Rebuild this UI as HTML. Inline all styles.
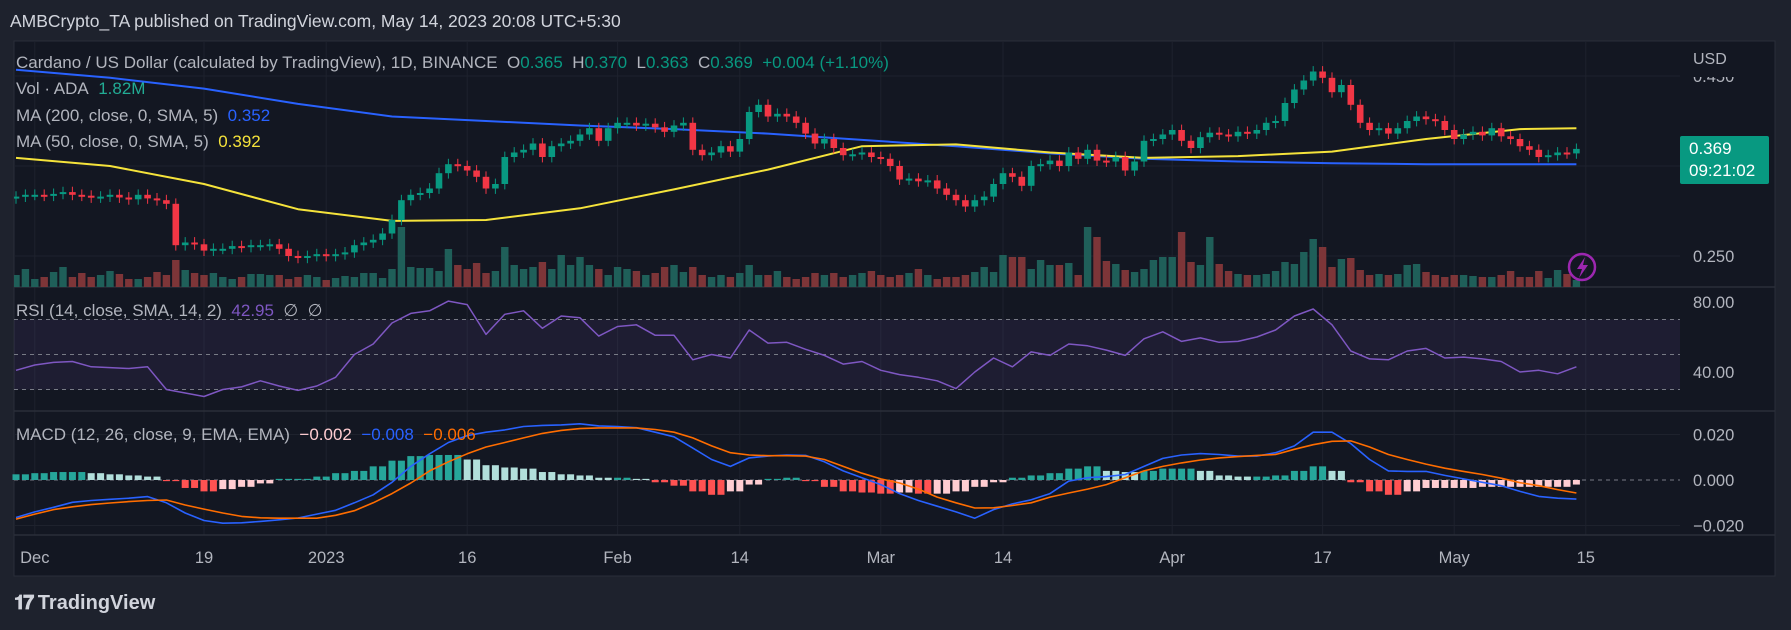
<!DOCTYPE html>
<html><head><meta charset="utf-8"><style>
html,body{margin:0;padding:0;background:#1e222d;width:1791px;height:630px;overflow:hidden;font-family:"Liberation Sans",sans-serif}
#wrap{position:relative;width:1791px;height:630px}
svg{position:absolute;left:0;top:0}
.t{position:absolute;white-space:nowrap;font-size:17px;color:#b2b5be;line-height:20px}
</style></head><body>
<div id="wrap">
<svg id="svg" width="1791" height="630"></svg>
<div class="t" style="left:10px;top:11px;font-size:17.5px;color:#d1d4dc">AMBCrypto_TA published on TradingView.com, May 14, 2023 20:08 UTC+5:30</div>
<div class="t" style="left:16px;top:53px">Cardano / US Dollar (calculated by TradingView), 1D, BINANCE&nbsp; O<span style="color:#089981">0.365</span>&nbsp; H<span style="color:#089981">0.370</span>&nbsp; L<span style="color:#089981">0.363</span>&nbsp; C<span style="color:#089981">0.369</span>&nbsp; <span style="color:#089981">+0.004 (+1.10%)</span></div>
<div class="t" style="left:16px;top:79px">Vol · ADA&nbsp; <span style="color:#22ab94">1.82M</span></div>
<div class="t" style="left:16px;top:106px">MA (200, close, 0, SMA, 5)&nbsp; <span style="color:#2962ff">0.352</span></div>
<div class="t" style="left:16px;top:132px">MA (50, close, 0, SMA, 5)&nbsp; <span style="color:#f5e33b">0.392</span></div>
<div class="t" style="left:16px;top:301px">RSI (14, close, SMA, 14, 2)&nbsp; <span style="color:#7e57c2">42.95</span>&nbsp; ∅&nbsp; ∅</div>
<div class="t" style="left:16px;top:425px">MACD (12, 26, close, 9, EMA, EMA)&nbsp; <span style="color:#ffcdd2">−0.002</span>&nbsp; <span style="color:#2962ff">−0.008</span>&nbsp; <span style="color:#ff6d00">−0.006</span></div>
<div class="t" style="left:1693px;top:50px;font-size:16px">USD</div>
<div style="position:absolute;left:1680px;top:136px;width:89px;height:48px;background:#089981;border-radius:2px;color:#fff;font-size:17px;line-height:22px;padding-left:9px;box-sizing:border-box;padding-top:2px">0.369<br>09:21:02</div>
<div style="position:absolute;left:14px;top:591px;color:#d1d4dc;font-size:20px;font-weight:bold;line-height:24px"><span style="letter-spacing:-2px">𝟏𝟕</span> TradingView</div>
</div>
<script>
const closes = [
.316,.318,
.318,.317,.319,.321,.318,.317,.315,.316,.318,.315,.313,.318,.314,.312,.308,
.262,
.265,.263,.256,.258,.258,.261,.260,.262,.262,.263,.258,.250,.248,.250,.252,
.250,.252,.254,.262,.265,.268,.275,.290,.312,.318,.320,.325,.342,.352,.350,.345,.338,.325,.330,.360,.365,.368,.375,.360,.372,.375,.378,.385,.392,.378,.392,
.398,.398,.395,.397,.393,.388,.395,.398,.368,.362,.365,.372,.366,.380,.410,.418,.405,.408,.405,.398,.386,.375,.380,.370,.362,.363,.365,.360,
.358,.350,.335,.336,.333,.334,.325,.318,.312,.305,.312,.316,.330,.342,.338,.328,.350,.352,.356,.350,.365,.358,.368,.356,.355,.360,.345,.355,.378,.380,.385,
.390,.378,.370,.382,.387,.385,.383,.388,.386,.390,.398,.400,.420,.435,.445,.455,.448,.432,.440,.418,.398,.390,.392,.386,.392,.400,.405,.402,.400,.390,
.380,.385,.388,.384,.392,.383,.380,.372,.368,.360,.362,.365,.364,.369];
const firstOpen = 0.314;
const volumes = [
12,18,8,10,15,20,10,14,10,12,16,13,8,8,10,15,12,27,17,14,12,14,10,8,10,13,13,12,12,8,10,12,10,
7,9,11,10,14,14,9,18,60,20,19,19,16,38,22,18,24,14,16,40,22,18,20,25,18,32,22,30,22,18,12,
20,18,16,12,14,20,22,15,20,12,10,12,10,14,22,12,12,16,10,8,10,14,12,14,10,12,14,16,12,
10,12,14,18,12,8,10,10,12,15,20,15,32,30,30,18,27,22,22,24,12,60,50,26,23,17,15,18,27,30,30,
55,25,22,50,23,16,13,12,12,13,16,25,23,35,48,40,20,28,29,17,12,13,12,13,22,23,15,12,10,12,12,
11,10,10,12,16,10,10,16,9,17,13,7,5,3];
const maIdx = [0,10,20,30,40,50,60,70,80,90,100,110,120,130,140,150,160,166];
const ma200 = [.457,.448,.436,.419,.405,.400,.395,.391,.386,.379,.372,.364,.358,.355,.353,.352,.352,.352];
const ma50 = [.359,.350,.330,.302,.289,.290,.303,.324,.346,.372,.374,.365,.359,.361,.366,.380,.391,.392];
const rsi = [41,44,45.5,46,43,42.5,42,43,30,28,26,30,31.5,35,32,29.5,32,37,50,56,68,73.5,75,80.5,78.5,61.5,73,75,65,72,71,60.5,66,67,61,61,47,50,48,64,56.5,57,53,49.5,44.5,46,41,38.5,37,35,30.5,40,48,43,51.5,49.5,56,55,52.5,49.5,59,63,57.5,59.5,57,57.5,60,64,72,76,67,52,47.5,47,52,53.5,48,48.5,47.5,46,40,41,39,43];
const macd = [-.0165,-.014,-.012,-.0098,-.009,-.0085,-.008,-.0073,-.010,-.0145,-.0178,-.019,-.0188,-.0182,-.0175,-.0167,-.015,-.0133,-.010,-.0065,-.001,.006,.0115,.0165,.0195,.021,.022,.0235,.024,.0242,.0247,.0238,.0235,.023,.021,.019,.014,.009,.006,.0097,.0105,.011,.0108,.008,.004,.001,-.002,-.006,-.009,-.0115,-.014,-.0168,-.013,-.0105,-.0087,-.006,-.0005,.001,.0015,.0024,.006,.0095,.011,.0116,.0112,.0105,.0105,.012,.015,.021,.021,.016,.009,.004,.0038,.0038,.002,.0005,-.001,-.0025,-.005,-.0072,-.008,-.0084];
const signal = [-.0172,-.015,-.013,-.0118,-.0108,-.0101,-.0095,-.009,-.0088,-.011,-.0128,-.0145,-.016,-.0166,-.0168,-.0168,-.0168,-.0155,-.0135,-.010,-.006,-.0013,.004,.008,.0115,.0145,.0165,.0185,.0205,.0218,.0226,.0229,.0229,.0229,.0222,.021,.0185,.015,.012,.011,.0107,.0107,.0105,.009,.006,.003,.0005,-.0013,-.004,-.0075,-.010,-.0123,-.0122,-.0112,-.010,-.0075,-.0057,-.004,-.002,.001,.004,.006,.0075,.0088,.0097,.0103,.0108,.0112,.0135,.0155,.017,.0172,.0145,.0112,.009,.007,.0052,.0038,.0024,.0008,-.0012,-.0025,-.0042,-.0057];
const hist = [.0025,.003,.0035,.0035,.003,.0025,.002,.0015,-.0005,-.0035,-.005,-.004,-.003,-.0015,.0005,.0005,.0015,.003,.004,.006,.0085,.0105,.011,.011,.009,.0065,.0055,.005,.0035,.0025,.002,.001,.001,.0005,-.001,-.0025,-.005,-.0065,-.005,-.002,.0005,.001,-.0005,-.003,-.005,-.0055,-.006,-.0055,-.006,-.006,-.005,-.003,-.001,.001,.002,.003,.005,.006,.004,.0035,.004,.005,.005,.004,.002,.0015,.0015,.002,.004,.006,.004,-.001,-.005,-.0065,-.005,-.0035,-.0035,-.0035,-.003,-.003,-.003,-.003,-.003,-.002];
const xLabels = ['Dec','19','2023','16','Feb','14','Mar','14','Apr','17','May','15'];
const xLabelIdx = [2,20,33,48,64,77,92,105,123,139,153,167];
const priceTicks = [0.450,0.350,0.250];
const priceTickText = ['0.450','','0.250'];
const rsiTicks = [80,40];
const macdTicks = [0.02,0,-0.02];

const NS='http://www.w3.org/2000/svg';
const svg=document.getElementById('svg');
function el(tag,at,parent){const e=document.createElementNS(NS,tag);for(const k in at)e.setAttribute(k,at[k]);(parent||svg).appendChild(e);return e;}
const xs=i=>16+i*9.4;
const py=p=>166-(p-0.35)*900;
const ry=v=>302+(80-v)*1.75;
const my=v=>480-v*2275;
const PL=14,PR=1680;

let bg=el('rect',{x:14,y:41,width:1761,height:535,fill:'#131722',stroke:'#2a2e39'});


xLabelIdx.forEach((idx,k)=>{
  const g=el('line',{x1:xs(idx),x2:xs(idx),y1:41,y2:535,stroke:'#1e222d','stroke-width':1});
  
  
  const t=el('text',{x:xs(idx),y:563,fill:'#b2b5be','font-size':16.5,'text-anchor':'middle','font-family':'Liberation Sans'});
  t.textContent=xLabels[k];
  
  
});
[287,411,535].forEach(y=>{const l=el('line',{x1:14,x2:1775,y1:y,y2:y,stroke:'#2a2e39','stroke-width':1.5});

});
const defs=el('defs',{});
const cp=el('clipPath',{id:'pc'},defs);el('rect',{x:14,y:41,width:1666,height:246},cp);
const cpa=el('clipPath',{id:'pa'},defs);el('rect',{x:1680,y:77,width:95,height:210},cpa);
priceTicks.forEach((p,k)=>{
  const g=el('line',{x1:PL,x2:PR,y1:py(p),y2:py(p),stroke:'#1e222d'});
  
  
  const t=el('text',{x:1693,y:py(p)+6,fill:'#b2b5be','font-size':16.5,'clip-path':'url(#pa)'});
  t.textContent=priceTickText[k];
  
  
});
const pane=el('g',{'clip-path':'url(#pc)'});
closes.forEach((c,i)=>{
  const o=i?closes[i-1]:firstOpen;const v=volumes[i]||8;
  const r=el('rect',{x:xs(i)-3.7,y:287-v,width:7.4,height:v,fill:c>=o?'#1f5f59':'#7d3538'},pane);
  
  
});
function line(idx,vals,f,col,w,parent,name){
  const pts=vals.map((v,k)=>xs(idx[k]).toFixed(1)+','+f(v).toFixed(1)).join(' ');
  const l=el('polyline',{points:pts,fill:'none',stroke:col,'stroke-width':w,'stroke-linejoin':'round'},parent);
  
  
}
line(maIdx,ma200,py,'#2962ff',2,pane,'ma200-line');
line(maIdx,ma50,py,'#f5e33b',2,pane,'ma50-line');
closes.forEach((c,i)=>{
  const o=i?closes[i-1]:firstOpen;const up=c>=o;const col=up?'#089981':'#f23645';
  const hi=Math.max(o,c)+0.006,lo=Math.min(o,c)-0.006;
  const w=el('line',{x1:xs(i),x2:xs(i),y1:py(hi),y2:py(lo),stroke:col,'stroke-width':1},pane);
  
  
  const top=py(Math.max(o,c));const h=Math.max(2,py(Math.min(o,c))-top);
  const b=el('rect',{x:xs(i)-3.3,y:top,width:6.6,height:h,fill:col},pane);
  
  
});
const ic=el('circle',{cx:1582,cy:267,r:13,fill:'none',stroke:'#9c27b0','stroke-width':2.5});


const bolt=el('path',{d:'M1585 257 L1577 269 L1582 269 L1579 278 L1588 265 L1583 265 Z',fill:'#9c27b0'});


const band=el('rect',{x:PL,y:ry(70),width:PR-PL,height:ry(30)-ry(70),fill:'rgba(126,87,194,0.1)'});


[70,50,30].forEach(v=>{const l=el('line',{x1:PL,x2:PR,y1:ry(v),y2:ry(v),stroke:'#787b86','stroke-dasharray':'4,4','stroke-width':1});

});
rsiTicks.forEach(v=>{const t=el('text',{x:1693,y:ry(v)+6,fill:'#b2b5be','font-size':16.5});t.textContent=v.toFixed(2);

});
const idx2=rsi.map((_,k)=>k*2);
line(idx2,rsi,ry,'#7e57c2',1.5,svg,'rsi-line');
macdTicks.forEach(v=>{
  const l=el('line',{x1:PL,x2:PR,y1:my(v),y2:my(v),stroke:v===0?'#787b86':'#1e222d','stroke-dasharray':v===0?'4,4':'none'});
  
  
  const t=el('text',{x:1693,y:my(v)+6,fill:'#b2b5be','font-size':16.5});t.textContent=v.toFixed(3).replace('-','−');
  
  
});
hist.forEach((h,k)=>{
  const prev=k?hist[k-1]:h;let col;
  if(h>=0)col=h>=prev?'#26a69a':'#b2dfdb';else col=h<prev?'#ff5252':'#ffcdd2';
  const y0=my(0),y1=my(h);
  for(let j=0;j<2;j++){const i=k*2+j;if(i>166)break;
  const r=el('rect',{x:xs(i)-3.5,y:Math.min(y0,y1),width:7,height:Math.max(1,Math.abs(y1-y0)),fill:col});
  
  }
});
line(idx2,macd,my,'#2962ff',1.6,svg,'macd-line');
line(idx2,signal,my,'#ff6d00',1.6,svg,'signal-line');
</script>
</body></html>
